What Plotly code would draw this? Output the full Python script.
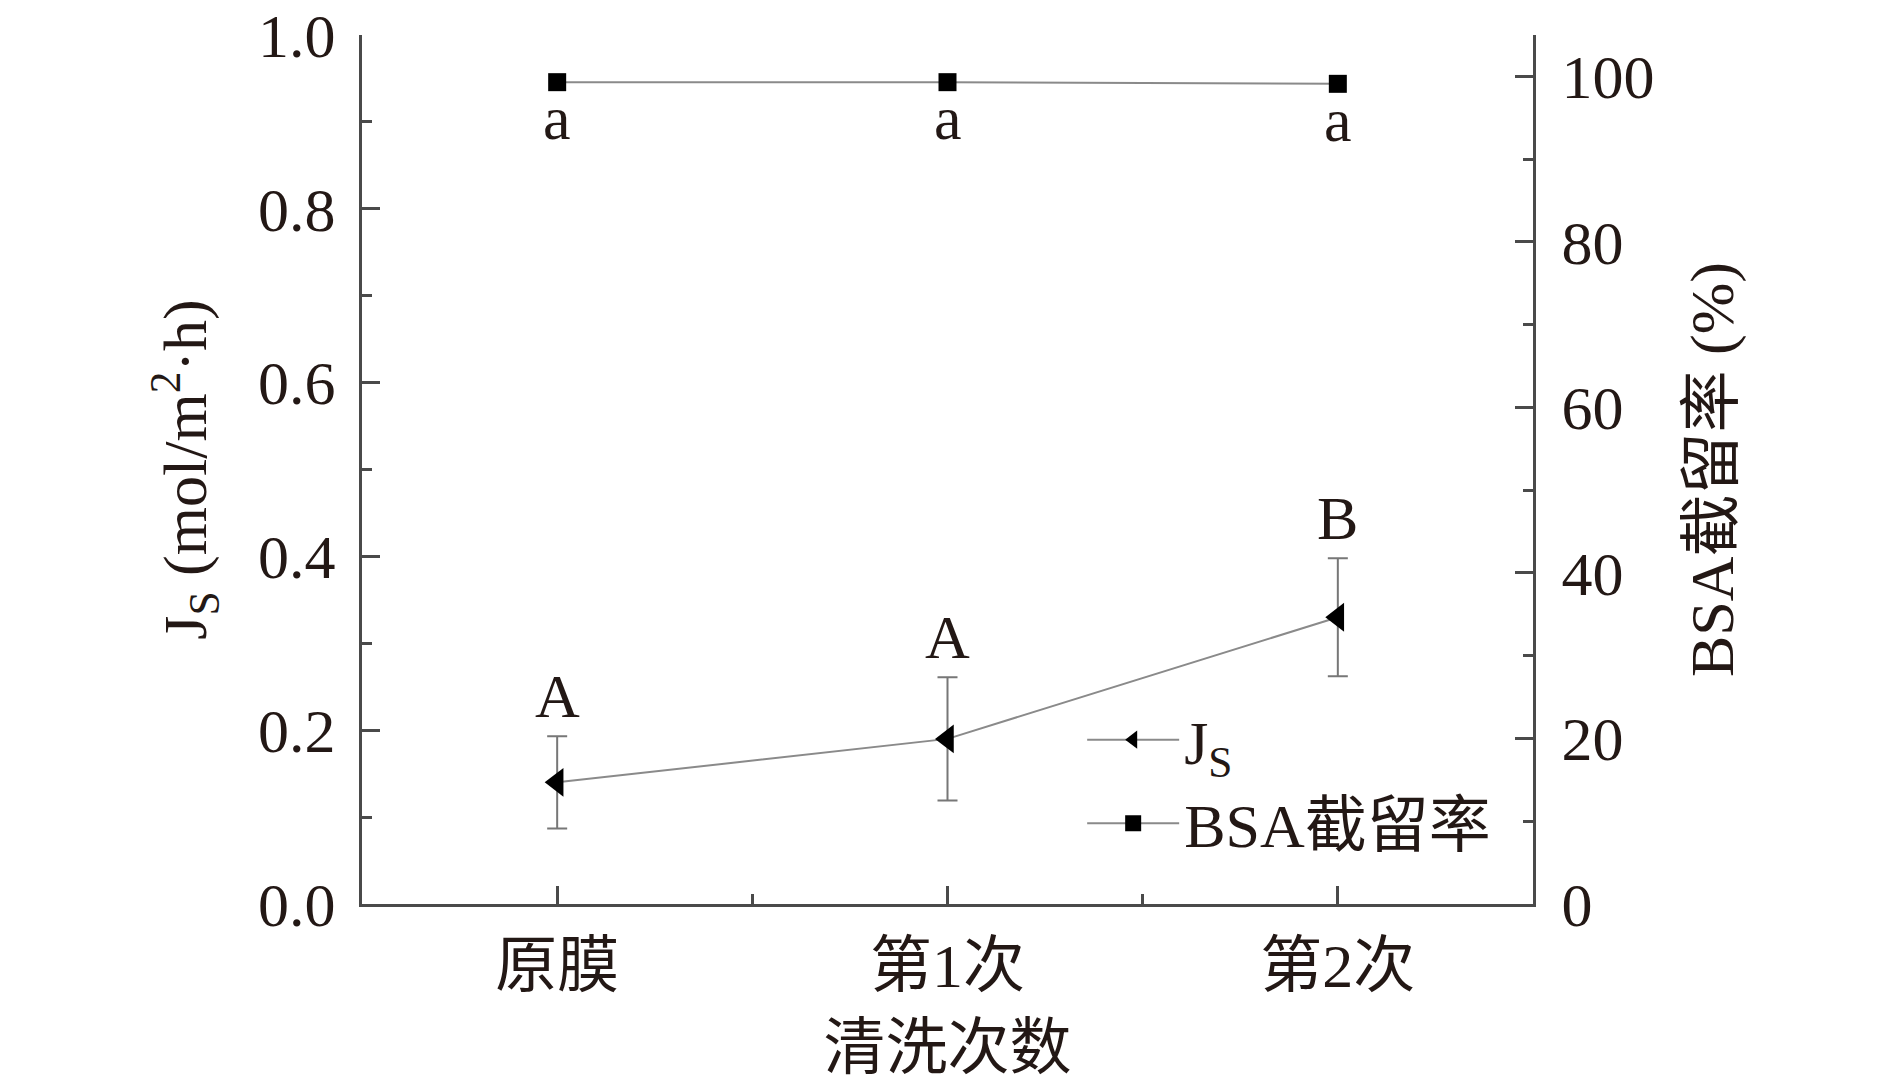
import plotly.graph_objects as go

categories = ["原膜", "第1次", "第2次"]
x_pos = [0, 1, 2]
js_values = [0.140, 0.190, 0.330]
js_errors = [0.053, 0.071, 0.068]
js_letters = ["A", "A", "B"]
bsa_values = [99.3, 99.3, 99.1]
bsa_letters = ["a", "a", "a"]

left_ticks = [0.0, 0.2, 0.4, 0.6, 0.8, 1.0]
left_ticktext = ["0.0", "0.2", "0.4", "0.6", "0.8", "1.0"]
right_ticks = [0, 20, 40, 60, 80, 100]

SERIF = "Liberation Serif, Times New Roman, Noto Sans CJK SC, serif"
FS = 62
AXC = "#4a4a4a"
LINEC = "#8a8a8a"

fig = go.Figure()

fig.add_trace(go.Scatter(
    x=x_pos, y=js_values, mode="lines+markers", name="J<sub>S</sub>",
    line=dict(color=LINEC, width=2),
    marker=dict(symbol="triangle-left", size=25, color="black"),
    error_y=dict(type="data", array=js_errors, visible=True,
                 color="#777777", thickness=2, width=10),
    yaxis="y"))

fig.add_trace(go.Scatter(
    x=x_pos, y=bsa_values, mode="lines+markers", name="BSA截留率",
    line=dict(color=LINEC, width=2),
    marker=dict(symbol="square", size=18, color="black"),
    yaxis="y2"))

annotations = []
for xi, v, e, t in zip(x_pos, js_values, js_errors, js_letters):
    annotations.append(dict(x=xi, y=v + e, xref="x", yref="y", text=t,
                            showarrow=False, yanchor="bottom", yshift=4,
                            font=dict(family=SERIF, size=FS, color="#231815")))
for xi, v, t in zip(x_pos, bsa_values, bsa_letters):
    annotations.append(dict(x=xi, y=v, xref="x", yref="y2", text=t,
                            showarrow=False, yanchor="top", yshift=0,
                            font=dict(family=SERIF, size=FS, color="#231815")))

fig.update_layout(
    width=1874, height=1074, autosize=False,
    margin=dict(l=354, r=349, t=27, b=178, autoexpand=False),
    paper_bgcolor="white", plot_bgcolor="white",
    font=dict(family=SERIF, size=FS, color="#231815"),
    showlegend=True,
    legend=dict(x=0.615, y=0.243, xanchor="left", yanchor="top",
                bgcolor="rgba(0,0,0,0)", font=dict(family=SERIF, size=FS),
                tracegroupgap=0, itemwidth=92),
    annotations=annotations,
    xaxis=dict(range=[-0.5, 2.5], tickmode="array", tickvals=x_pos,
               ticktext=categories, ticks="inside", ticklen=18, tickwidth=3,
               tickcolor=AXC, showline=True, linecolor=AXC, linewidth=3,
               showgrid=False, zeroline=False, ticklabelstandoff=6,
               automargin=False, ticklabeloverflow="allow",
               minor=dict(tickmode="array", tickvals=[0.5, 1.5], ticks="inside",
                          ticklen=10, tickwidth=3, tickcolor=AXC, showgrid=False),
               title=dict(text="清洗次数", standoff=30,
                          font=dict(family=SERIF, size=FS))),
    yaxis=dict(range=[0, 1.0], tickmode="array", tickvals=left_ticks,
               ticktext=left_ticktext, ticks="inside", ticklen=18, tickwidth=3,
               tickcolor=AXC, showline=True, linecolor=AXC, linewidth=3,
               showgrid=False, zeroline=False, ticklabelstandoff=11,
               automargin=False, ticklabeloverflow="allow",
               minor=dict(dtick=0.1, ticks="inside", ticklen=10, tickwidth=3,
                          tickcolor=AXC, showgrid=False),
               title=dict(text="J<sub>S</sub> (mol/m<sup>2</sup>·h)", standoff=32,
                          font=dict(family=SERIF, size=FS))),
    yaxis2=dict(range=[0, 105], overlaying="y", side="right", tickmode="array",
                tickvals=right_ticks, ticks="inside", ticklen=18, tickwidth=3,
                tickcolor=AXC, showline=True, linecolor=AXC, linewidth=3,
                showgrid=False, zeroline=False, ticklabelstandoff=13,
                automargin=False, ticklabeloverflow="allow",
                minor=dict(dtick=10, ticks="inside", ticklen=10, tickwidth=3,
                           tickcolor=AXC, showgrid=False),
                title=dict(text="BSA截留率 (%)", standoff=37,
                           font=dict(family=SERIF, size=FS))),
)

fig.write_html("out.html")
